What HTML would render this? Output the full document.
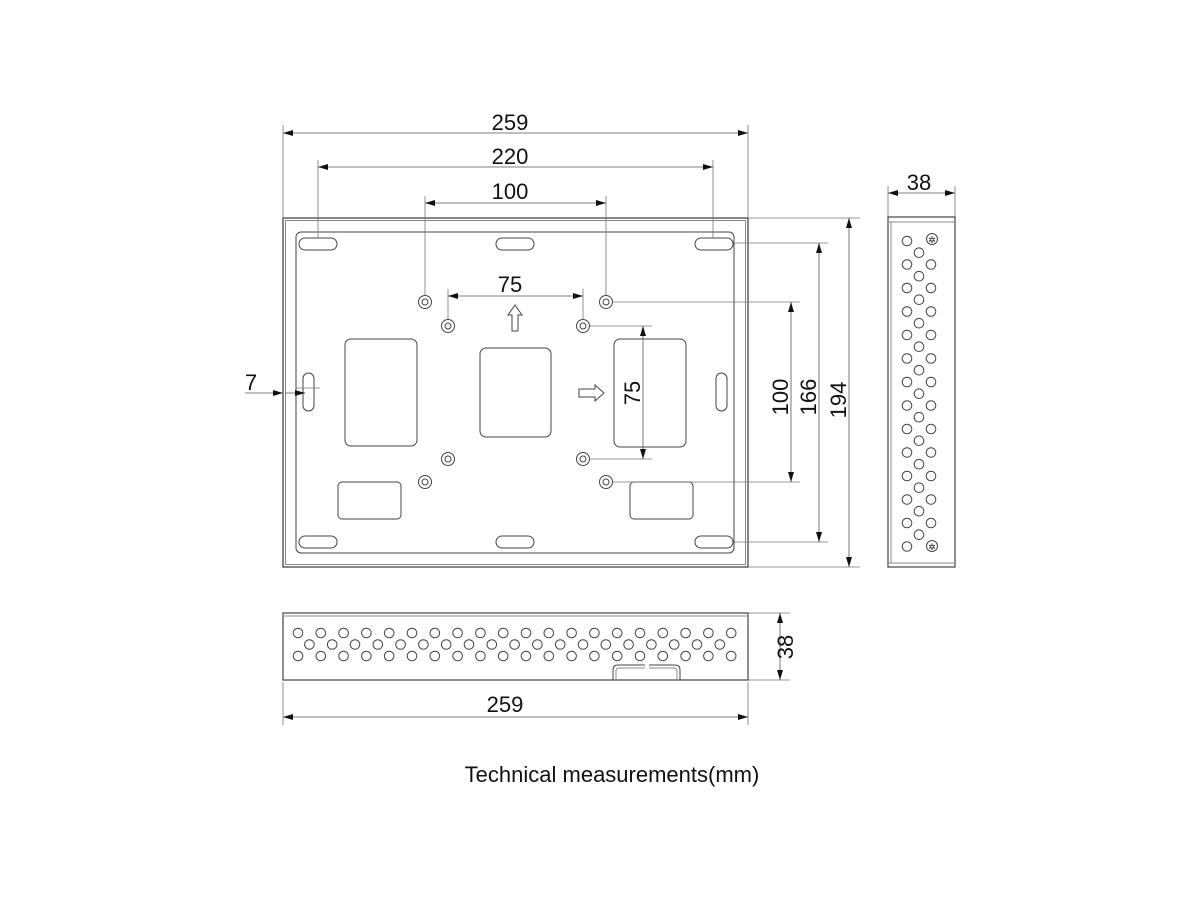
<!DOCTYPE html>
<html><head><meta charset="utf-8"><style>
html,body{margin:0;padding:0;background:#fff;width:1200px;height:900px;overflow:hidden}
svg{display:block}
text{font-family:"Liberation Sans",Arial,sans-serif;fill:#111}
</style></head><body>
<svg id="s" width="1200" height="900" viewBox="0 0 1200 900" xmlns="http://www.w3.org/2000/svg">
<defs>
<marker id="a" viewBox="0 0 10 6" refX="10" refY="3" markerWidth="10" markerHeight="6" orient="auto-start-reverse" markerUnits="userSpaceOnUse"><path d="M0,0L10,3L0,6z" fill="#111"/></marker>
</defs>
<g fill="none" stroke="#444" stroke-width="1">
<rect x="283" y="218" width="465" height="349" stroke-width="1.3"/>
<rect x="285.5" y="220.5" width="460" height="344" stroke="#888"/>
<rect x="296" y="232" width="438" height="321" rx="5"/>
<rect x="299" y="238" width="38" height="12" rx="6"/>
<rect x="496" y="238" width="38" height="12" rx="6"/>
<rect x="695" y="238" width="38" height="12" rx="6"/>
<rect x="299" y="536" width="38" height="12" rx="6"/>
<rect x="496" y="536" width="38" height="12" rx="6"/>
<rect x="695" y="536" width="38" height="12" rx="6"/>
<rect x="303" y="373" width="11" height="38" rx="5.5"/>
<rect x="716" y="373" width="11" height="38" rx="5.5"/>
<rect x="345" y="339" width="72" height="107" rx="6"/>
<rect x="480" y="348" width="71" height="89" rx="6"/>
<rect x="614" y="339" width="72" height="108" rx="6"/>
<rect x="338" y="482" width="63" height="37" rx="4"/>
<rect x="630" y="482" width="63" height="37" rx="4"/>
<g id="holes"></g>
<path d="M515,305 L522,315 L518,315 L518,331 L512,331 L512,315 L508,315 Z"/>
<path d="M604,393 L595,385 L595,389 L579,389 L579,397 L595,397 L595,401 Z"/>
</g>
<g stroke="#777" stroke-width="0.8" fill="none">
<line x1="283" y1="125" x2="283" y2="217"/><line x1="748" y1="125" x2="748" y2="217"/>
<line x1="318" y1="160" x2="318" y2="238"/><line x1="713" y1="160" x2="713" y2="238"/>
<line x1="425" y1="196" x2="425" y2="295"/><line x1="606" y1="196" x2="606" y2="295"/>
<line x1="448" y1="289" x2="448" y2="319"/><line x1="583" y1="289" x2="583" y2="319"/>
<line x1="748" y1="218" x2="860" y2="218"/><line x1="748" y1="567" x2="860" y2="567"/>
<line x1="734" y1="243" x2="828" y2="243"/><line x1="734" y1="542" x2="828" y2="542"/>
<line x1="613" y1="302" x2="800" y2="302"/><line x1="613" y1="482" x2="800" y2="482"/>
<line x1="590" y1="326" x2="652" y2="326"/><line x1="590" y1="459" x2="652" y2="459"/>
<line x1="888" y1="186" x2="888" y2="217"/><line x1="955" y1="186" x2="955" y2="217"/>
<line x1="748" y1="613" x2="790" y2="613"/><line x1="748" y1="680" x2="790" y2="680"/>
<line x1="283" y1="682" x2="283" y2="725"/><line x1="748" y1="682" x2="748" y2="725"/>
<line x1="296" y1="388" x2="320" y2="388"/>
</g>
<g stroke="#555" stroke-width="0.8" marker-start="url(#a)" marker-end="url(#a)">
<line x1="283" y1="133" x2="748" y2="133"/>
<line x1="318" y1="167" x2="713" y2="167"/>
<line x1="425" y1="203" x2="606" y2="203"/>
<line x1="448" y1="296" x2="583" y2="296"/>
<line x1="849" y1="218" x2="849" y2="567"/>
<line x1="819" y1="243" x2="819" y2="542"/>
<line x1="791" y1="302" x2="791" y2="482"/>
<line x1="643" y1="326" x2="643" y2="459"/>
<line x1="888" y1="193" x2="955" y2="193"/>
<line x1="780" y1="613" x2="780" y2="680"/>
<line x1="283" y1="717" x2="748" y2="717"/>
</g>
<g stroke="#555" stroke-width="0.8">
<line x1="245" y1="393" x2="283" y2="393" marker-end="url(#a)"/>
<line x1="285" y1="393" x2="305" y2="393"/>
<line x1="295" y1="393" x2="305" y2="393" marker-end="url(#a)"/>
</g>
<g font-size="22" text-anchor="middle">
<text x="510" y="130">259</text>
<text x="510" y="164">220</text>
<text x="510" y="199">100</text>
<text x="510" y="292">75</text>
<text x="251" y="390">7</text>
<text x="919" y="190">38</text>
<text x="505" y="712">259</text>
<text transform="translate(640,393) rotate(-90)">75</text>
<text transform="translate(788,397) rotate(-90)">100</text>
<text transform="translate(816,397) rotate(-90)">166</text>
<text transform="translate(846,400) rotate(-90)">194</text>
<text transform="translate(793,647) rotate(-90)">38</text>
<text x="612" y="782">Technical measurements(mm)</text>
</g>
<g fill="none" stroke="#444">
<rect x="888" y="217" width="67" height="350" stroke-width="1.2"/>
<line x1="889" y1="222" x2="954" y2="222" stroke="#888"/>
<line x1="889" y1="563" x2="954" y2="563" stroke="#888"/>
<line x1="891" y1="222" x2="891" y2="563" stroke="#888"/>
<circle cx="932" cy="239" r="5.5"/><circle cx="932" cy="546" r="5.5"/>
<g id="side"></g>
<rect x="283" y="613" width="465" height="67" stroke-width="1.2"/>
<line x1="284" y1="616" x2="747" y2="616" stroke="#888"/>
<g id="bot"></g>
<path d="M613,680 L613,670 Q613,665 618,665 L645,665 M649,665 L675,665 Q680,665 680,670 L680,680"/>
<path d="M616,680 L616,671 Q616,668 619,668 L645,668 M649,668 L674,668 Q677,668 677,671 L677,680" stroke="#888"/>
</g>
<text x="932" y="243" font-size="9" text-anchor="middle">✲</text>
<text x="932" y="550" font-size="9" text-anchor="middle">✲</text>
</svg>
<script>
var NS="http://www.w3.org/2000/svg";
function c(g,x,y,r){var e=document.createElementNS(NS,"circle");e.setAttribute("cx",x);e.setAttribute("cy",y);e.setAttribute("r",r);document.getElementById(g).appendChild(e);}
[[425,302],[448,326],[448,459],[425,482],[606,302],[583,326],[583,459],[606,482]].forEach(function(p){c("holes",p[0],p[1],6.5);c("holes",p[0],p[1],3);});
for(var i=0;i<14;i++){var y=241+i*23.5;c("side",907,y,4.8);if(i>0&&i<13)c("side",931,y,4.8);if(i<13)c("side",919,y+11.7,4.8);}
for(var i=0;i<20;i++){var x=298+i*22.8;c("bot",x,633,4.8);c("bot",x,656,4.8);if(i<19)c("bot",x+11.4,644.5,4.8);}
</script>
</body></html>
